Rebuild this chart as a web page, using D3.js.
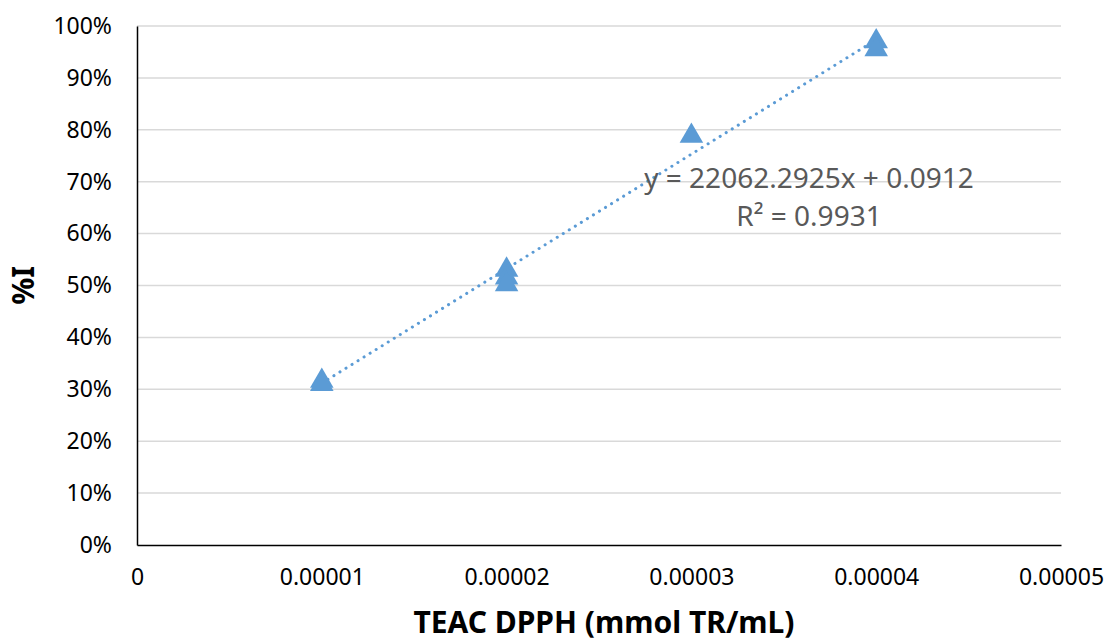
<!DOCTYPE html>
<html>
<head>
<meta charset="utf-8">
<script src="https://cdn.jsdelivr.net/npm/d3@7"></script>
<style>
  body { margin: 0; background: #fff; }
  text { font-family: "Noto Sans", sans-serif; }
</style>
</head>
<body>
<script>
const WIDTH = 1106;
const HEIGHT = 642;

// measured points (TEAC, %I)
const xValues = [0.00001, 0.00001, 0.00002, 0.00002, 0.00002, 0.00003, 0.00004, 0.00004];
const yValues = [0.310, 0.316, 0.530, 0.515, 0.502, 0.788, 0.970, 0.955];
const xTicks = [0, 0.00001, 0.00002, 0.00003, 0.00004, 0.00005];
const xTickLabels = ["0", "0.00001", "0.00002", "0.00003", "0.00004", "0.00005"];
const yTicks = [0, 0.1, 0.2, 0.3, 0.4, 0.5, 0.6, 0.7, 0.8, 0.9, 1.0];
const slope = 22062.2925;
const intercept = 0.0912;
const trendRange = [0.00001, 0.00004];
const eqLines = ["y = 22062.2925x + 0.0912", "R² = 0.9931"];

function main(){
    let svg = d3.select("body")
        .append("svg")
        .attr("width", WIDTH)
        .attr("height", HEIGHT);

    let x = d3.scaleLinear().domain([0, 0.00005]).range([137, 1061]);
    let y = d3.scaleLinear().domain([0, 1]).range([545, 26]);

    // gridlines
    svg.selectAll(".grid")
        .data(yTicks.slice(1))
        .enter()
        .append("line")
        .attr("x1", x(0)).attr("x2", x(0.00005))
        .attr("y1", d => y(d)).attr("y2", d => y(d))
        .style("stroke", "#d9d9d9")
        .style("stroke-width", 1.5);

    // y axis
    let yAxis = svg.append("g")
        .attr("transform", `translate(${x(0)},0)`)
        .call(d3.axisLeft(y).tickValues(yTicks).tickFormat(d3.format(".0%")).tickSize(0).tickPadding(25));
    yAxis.select(".domain").style("stroke", "#000").style("stroke-width", 1.5);
    yAxis.selectAll("text").style("font-size", "23px").style("fill", "#000");

    // x axis
    let xAxis = svg.append("g")
        .attr("transform", `translate(0,${y(0)})`)
        .call(d3.axisBottom(x).tickValues(xTicks).tickFormat((d, i) => xTickLabels[i]).tickSize(0).tickPadding(24));
    xAxis.select(".domain").style("stroke", "#000").style("stroke-width", 1.5);
    xAxis.selectAll("text").style("font-size", "23px").style("fill", "#000");

    // trendline
    svg.append("line")
        .attr("x1", x(trendRange[0])).attr("y1", y(slope * trendRange[0] + intercept))
        .attr("x2", x(trendRange[1])).attr("y2", y(slope * trendRange[1] + intercept))
        .style("stroke", "#5b9bd5")
        .style("stroke-width", 3)
        .style("stroke-linecap", "round")
        .style("stroke-dasharray", "0.1 7");

    // markers
    let tri = d3.symbol().type(d3.symbolTriangle).size(240);
    svg.selectAll(".pt")
        .data(xValues)
        .enter()
        .append("path")
        .attr("class", "pt")
        .attr("d", tri)
        .attr("transform", (d, i) => `translate(${x(d)},${y(yValues[i])})`)
        .style("fill", "#5b9bd5");

    // equation label
    svg.selectAll(".eq")
        .data(eqLines)
        .enter()
        .append("text")
        .attr("x", 809)
        .attr("y", (d, i) => 188 + i * 38)
        .attr("text-anchor", "middle")
        .style("font-size", "28px")
        .style("fill", "#595959")
        .text(d => d);

    // titles
    svg.append("text")
        .attr("x", 604).attr("y", 633)
        .attr("text-anchor", "middle")
        .style("font-size", "30px")
        .style("font-weight", "bold")
        .style("fill", "#000")
        .text("TEAC DPPH (mmol TR/mL)");

    svg.append("text")
        .attr("transform", `translate(34,${(y(0) + y(1)) / 2}) rotate(-90)`)
        .attr("text-anchor", "middle")
        .style("font-size", "30px")
        .style("font-weight", "bold")
        .style("fill", "#000")
        .text("%I");
}

main();
</script>
</body>
</html>
